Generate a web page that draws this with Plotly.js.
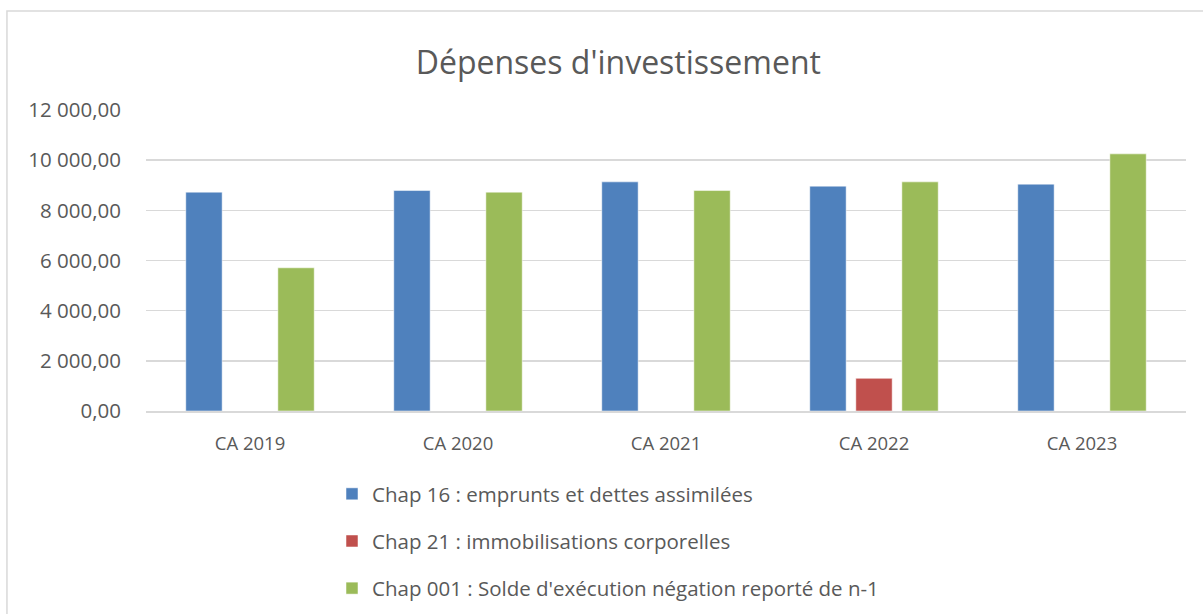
<!DOCTYPE html>
<html>
<head>
<meta charset="utf-8">
<script src="https://cdn.plot.ly/plotly-3.0.1.min.js"></script>
<style>html,body{margin:0;padding:0;background:#fff;}#chart{width:1203px;height:614px;}</style>
</head>
<body>
<div id="chart"></div>
<script>
const categories = ["CA 2019", "CA 2020", "CA 2021", "CA 2022", "CA 2023"];
const seriesNames = [
  "Chap 16 : emprunts et dettes assimilées",
  "Chap 21 : immobilisations corporelles",
  "Chap 001 : Solde d'exécution négation reporté de n-1"
];
const chap16 = [8725, 8789, 9135, 8964, 9044];
const chap21 = [0, 0, 0, 1302, 0];
const chap001 = [5709, 8725, 8789, 9135, 10251];
const colors = ["#4f81bd", "#c0504d", "#9bbb59"];
const yTicks = [0, 2000, 4000, 6000, 8000, 10000, 12000];

const FONT = "Open Sans, Noto Sans, sans-serif";
const seriesValues = [chap16, chap21, chap001];
const traces = seriesValues.map((vals, i) => ({
  type: "bar",
  name: seriesNames[i],
  x: categories,
  y: vals,
  legendgroup: "g" + i,
  marker: {color: colors[i], line: {color: "rgba(255,255,255,0.5)", width: 1}},
  hoverinfo: "x+y+name"
}));

const layout = {
  width: 1203,
  height: 614,
  margin: {l: 146, r: 17, t: 110, b: 203, autoexpand: false},
  paper_bgcolor: "#ffffff",
  plot_bgcolor: "#ffffff",
  separators: ", ",
  barmode: "group",
  bargap: 0.336,
  bargroupgap: 0.21,
  font: {family: FONT, color: "#595959", size: 18},
  title: {
    text: "Dépenses d'investissement",
    font: {family: FONT, size: 32, color: "#595959"},
    xref: "container", x: 0.514, xanchor: "center",
    yref: "container", y: 0.898, yanchor: "middle"
  },
  xaxis: {
    type: "category",
    showgrid: false,
    showline: true,
    linecolor: "#d9d9d9",
    linewidth: 1.5,
    ticks: "outside",
    ticklen: 15,
    tickcolor: "rgba(0,0,0,0)",
    tickfont: {family: FONT, size: 18.5, color: "#595959"},
    zeroline: false
  },
  yaxis: {
    range: [0, 12000],
    tickvals: yTicks,
    tickformat: ",.2f",
    showgrid: true,
    gridcolor: "#d9d9d9",
    gridwidth: 1.5,
    zeroline: false,
    showline: false,
    ticks: "outside",
    ticklen: 20,
    tickcolor: "rgba(0,0,0,0)",
    tickfont: {family: FONT, size: 20.5, color: "#595959"}
  },
  legend: {
    orientation: "v",
    xref: "container", x: 332 / 1203, xanchor: "left",
    yref: "container", y: 1 - 474 / 614, yanchor: "top",
    traceorder: "grouped",
    tracegroupgap: 17.5,
    itemwidth: 30,
    font: {family: FONT, size: 20.5, color: "#595959"},
    bgcolor: "rgba(0,0,0,0)"
  },
  shapes: [{
    type: "rect", xref: "paper", yref: "paper",
    x0: -0.1337, x1: 1.3, y0: -1.2, y1: 1.329,
    line: {color: "#d9d9d9", width: 1.5},
    fillcolor: "rgba(0,0,0,0)",
    layer: "below"
  }],
  showlegend: true
};

Plotly.newPlot("chart", traces, layout, {displayModeBar: false, staticPlot: true});
</script>
</body>
</html>
